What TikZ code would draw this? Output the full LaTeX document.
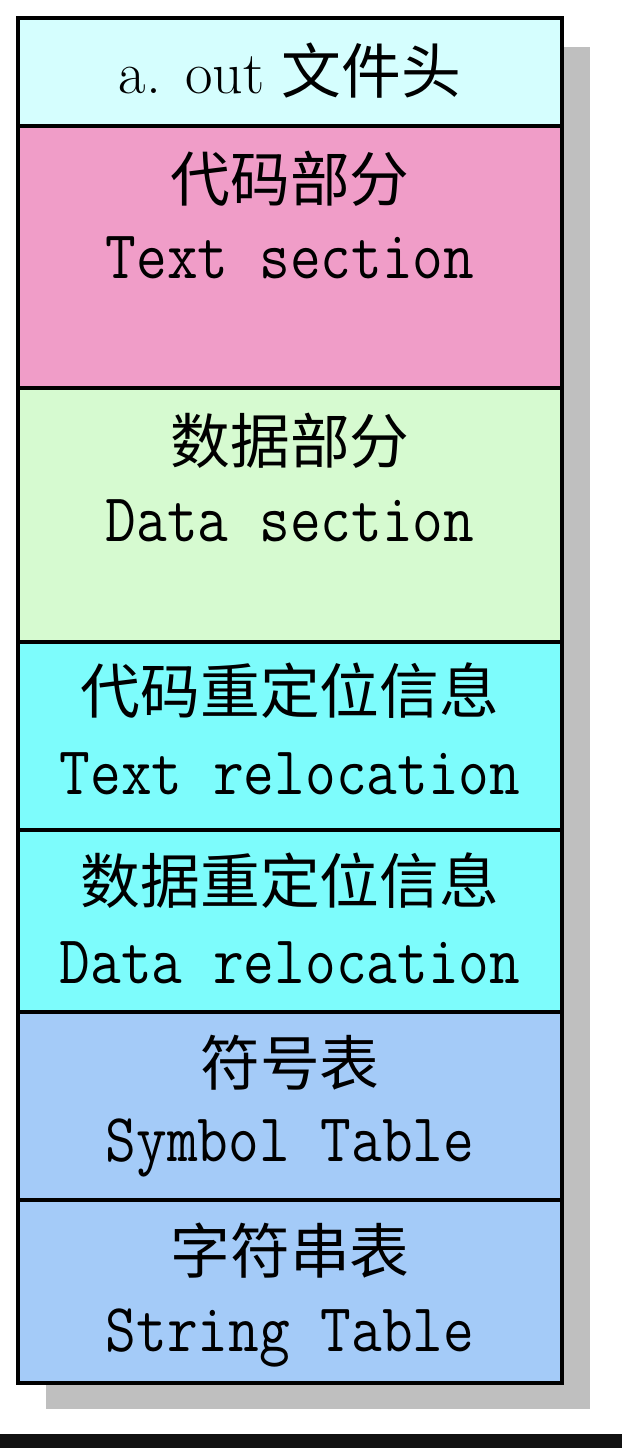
\documentclass[tikz,border=0pt]{standalone}
\usepackage{fontspec}
\newfontfamily\cjk{Noto Sans CJK SC}
\usepackage{tikz}
\usetikzlibrary{positioning}

\definecolor{headcol}{RGB}{213,254,254}
\definecolor{textcol}{RGB}{240,157,200}
\definecolor{datacol}{RGB}{214,250,208}
\definecolor{relcol}{RGB}{125,252,252}
\definecolor{tabcol}{RGB}{164,203,248}
\definecolor{shadowcol}{RGB}{191,191,191}

\newcommand{\zh}[1]{{\cjk\fontsize{34}{34}\selectfont #1}}
\newcommand{\en}[1]{{\fontsize{39}{39}\selectfont\ttfamily\scalebox{0.87}[1]{#1}}}
\newcommand{\hdr}[1]{{\fontsize{34}{34}\selectfont\rmfamily #1}}

\tikzset{
  sect/.style={draw, line width=2.2pt, minimum width=10.88cm, inner sep=0pt, outer sep=0pt},
  lbl/.style={anchor=base, inner sep=0pt}
}

\begin{document}
\begin{tikzpicture}[x=0.02cm, y=-0.02cm]
  \useasboundingbox (0,0) rectangle (622,1448);

  % shadow and the bar at the bottom
  \coordinate(s1) at (46,47);
  \coordinate(s2) at (590,1409);
  \coordinate(b1) at (0,1434);
  \coordinate(b2) at (622,1448);
  \fill[shadowcol] (s1) rectangle (s2);
  \fill[black!93] (b1) rectangle (b2);

  % the sections of the file
  \node[sect, fill=headcol, minimum height=2.16cm] (head) at (290,72) {};
  \node[sect, fill=textcol, minimum height=5.24cm, below=0pt of head] (text) {};
  \node[sect, fill=datacol, minimum height=5.08cm, below=0pt of text] (data) {};
  \node[sect, fill=relcol, minimum height=3.76cm, below=0pt of data] (trel) {};
  \node[sect, fill=relcol, minimum height=3.64cm, below=0pt of trel] (drel) {};
  \node[sect, fill=tabcol, minimum height=3.76cm, below=0pt of drel] (symtab) {};
  \node[sect, fill=tabcol, minimum height=3.66cm, below=0pt of symtab] (strtab) {};

  % labels
  \node[lbl] (headL) at (290,93) {\hdr{a. out}\hspace{0.35cm}\zh{文件头}};

  \node[lbl] (textZh) at (290,201) {\zh{代码部分}};
  \node[lbl] (textEn) at (290,278) {\en{Text section}};

  \node[lbl] (dataZh) at (290,463) {\zh{数据部分}};
  \node[lbl] (dataEn) at (290,541) {\en{Data section}};

  \node[lbl] (trelZh) at (290,713) {\zh{代码重定位信息}};
  \node[lbl] (trelEn) at (290,794) {\en{Text relocation}};

  \node[lbl] (drelZh) at (290,903) {\zh{数据重定位信息}};
  \node[lbl] (drelEn) at (290,983) {\en{Data relocation}};

  \node[lbl] (symZh) at (290,1085) {\zh{符号表}};
  \node[lbl] (symEn) at (290,1161) {\en{Symbol Table}};

  \node[lbl] (strZh) at (290,1273) {\zh{字符串表}};
  \node[lbl] (strEn) at (290,1351) {\en{String Table}};
\end{tikzpicture}
\end{document}
